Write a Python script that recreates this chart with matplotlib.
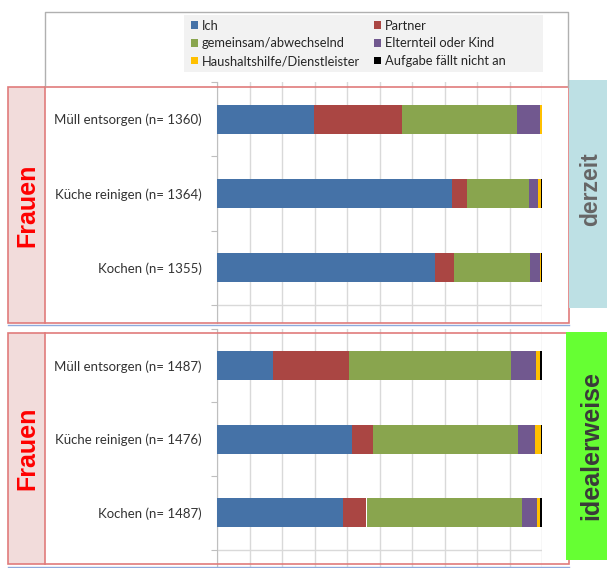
import matplotlib
matplotlib.use("Agg")
import matplotlib.pyplot as plt
from matplotlib.patches import Rectangle, Patch
import numpy as np

# ---------------- data ----------------
categories_now = ["Müll entsorgen (n= 1360)", "Küche reinigen (n= 1364)", "Kochen (n= 1355)"]
categories_ideal = ["Müll entsorgen (n= 1487)", "Küche reinigen (n= 1476)", "Kochen (n= 1487)"]
series_names = ["Ich", "Partner", "gemeinsam/abwechselnd", "Elternteil oder Kind",
                "Haushaltshilfe/Dienstleister", "Aufgabe fällt nicht an"]
series_colors = ["#4572A7", "#AA4643", "#89A54E", "#71588F", "#FFC000", "#000000"]

# derzeit (percent)
now_ich = [29.9, 72.4, 67.0]
now_partner = [27.1, 4.4, 5.8]
now_gemeinsam = [35.3, 19.2, 23.6]
now_eltern = [7.0, 2.8, 3.1]
now_haushalt = [0.6, 1.0, 0.2]
now_entfaellt = [0.1, 0.2, 0.3]

# idealerweise (percent)
ideal_ich = [17.2, 41.4, 38.7]
ideal_partner = [23.4, 6.5, 7.3]
ideal_gemeinsam = [49.8, 44.6, 47.9]
ideal_eltern = [7.7, 5.2, 4.7]
ideal_haushalt = [1.4, 2.1, 0.7]
ideal_entfaellt = [0.5, 0.2, 0.7]

now_series = [now_ich, now_partner, now_gemeinsam, now_eltern, now_haushalt, now_entfaellt]
ideal_series = [ideal_ich, ideal_partner, ideal_gemeinsam, ideal_eltern, ideal_haushalt, ideal_entfaellt]

# ---------------- layout ----------------
W, H = 607, 568
fig = plt.figure(figsize=(W / 100, H / 100), dpi=100)
fig.patch.set_facecolor("white")

LABEL_FONT = "Lato"
TXT = "#333333"
GRID = "#d9d9d9"


def frac(x0, y0, x1, y1):
    return [x0 / W, 1 - y1 / H, (x1 - x0) / W, (y1 - y0) / H]


def draw_panel(rect, cats, series, ylim_bottom):
    ax = fig.add_axes(rect)
    y = np.arange(len(cats))
    left = np.zeros(len(cats))
    for vals, col in zip(series, series_colors):
        ax.barh(y, vals, left=left, height=0.39, color=col, edgecolor="none", zorder=3)
        left = left + np.array(vals)
    ax.set_xlim(0, 100)
    ax.set_ylim(ylim_bottom, -0.5)
    ax.set_xticks(np.arange(0, 101, 10))
    ax.tick_params(axis="x", length=0, labelbottom=False)
    ax.grid(axis="x", color=GRID, lw=1, zorder=0)
    ax.set_yticks(y)
    ax.set_yticklabels(cats, fontfamily=LABEL_FONT, fontsize=9.5, color=TXT)
    ax.tick_params(axis="y", which="major", length=0, pad=11)
    ax.set_yticks(np.arange(-0.5, len(cats), 1.0), minor=True)
    ax.tick_params(axis="y", which="minor", length=4, color="#bfbfbf", width=0.8)
    for s in ["top", "right", "bottom"]:
        ax.spines[s].set_visible(False)
    ax.spines["left"].set_color("#bfbfbf")
    ax.axhline(len(cats) - 0.5, color=GRID, lw=1, zorder=1)
    return ax


# top panel (derzeit): boundaries 82 .. 305, axes to 323
ax1 = draw_panel(frac(217, 82, 542, 323), categories_now, now_series, 2.5 + 18 / 74.33)
# bottom panel (idealerweise): boundaries 328.5 .. 549.75, axes to 568
ax2 = draw_panel(frac(217, 328.5, 542, 568), categories_ideal, ideal_series, 2.5 + 18.25 / 73.75)

# legend background box
fig.add_artist(Rectangle((184 / W, 1 - 72 / H), (543 - 184) / W, (72 - 15) / H,
                         transform=fig.transFigure, facecolor="#f2f2f2",
                         edgecolor="none", zorder=4))

# legend
order = [0, 2, 4, 1, 3, 5]
handles = [Patch(facecolor=series_colors[i], edgecolor="none") for i in order]
labels = [series_names[i] for i in order]
leg = fig.legend(handles, labels, ncol=2, loc="upper left",
                 bbox_to_anchor=(186 / W, 1 - 15 / H), frameon=False,
                 handlelength=0.55, handleheight=0.55, handletextpad=0.3,
                 columnspacing=1.1, labelspacing=0.45, borderpad=0.35,
                 borderaxespad=0, prop={"family": LABEL_FONT, "size": 9.3},
                 labelcolor="#262626")
leg.set_zorder(5)

# ---------------- overlay decorations ----------------
ov = fig.add_axes([0, 0, 1, 1], zorder=10)
ov.set_xlim(0, W)
ov.set_ylim(H, 0)
ov.axis("off")
ov.patch.set_alpha(0)

# grey outer chart frame (top)
ov.plot([45, 45, 568, 568], [87, 12, 12, 87], color="#b0b0b0", lw=1)

RED = "#e07b7b"
PINK = "#f2dcdb"
# top panel box
ov.add_patch(Rectangle((8, 87), 37, 236, facecolor=PINK, edgecolor="none"))
ov.add_patch(Rectangle((8, 87), 561, 236, facecolor="none", edgecolor=RED, lw=1.2))
ov.plot([45, 45], [87, 323], color=RED, lw=1.2)
ov.plot([8, 569], [324.5, 324.5], color="#8faadc", lw=1)
# bottom panel box
ov.add_patch(Rectangle((8, 333), 37, 231, facecolor=PINK, edgecolor="none"))
ov.add_patch(Rectangle((8, 333), 561, 231, facecolor="none", edgecolor=RED, lw=1.2))
ov.plot([45, 45], [333, 564], color=RED, lw=1.2)
ov.plot([8, 569], [566.5, 566.5], color="#8faadc", lw=1)

ov.text(27, 205, "Frauen", rotation=90, ha="center", va="center", color="#ff0000",
        fontsize=18, fontweight="bold", family="Liberation Sans")
ov.text(27, 448, "Frauen", rotation=90, ha="center", va="center", color="#ff0000",
        fontsize=18, fontweight="bold", family="Liberation Sans")

# right side boxes
ov.add_patch(Rectangle((569, 80), 38, 228, facecolor="#bde0e4", edgecolor="none"))
ov.text(591, 189, "derzeit", rotation=90, ha="center", va="center", color="#666666",
        fontsize=16.5, fontweight="bold", family="Liberation Sans")
ov.add_patch(Rectangle((566, 332), 41, 228, facecolor="#66ff33", edgecolor="none"))
ov.text(591, 446, "idealerweise", rotation=90, ha="center", va="center", color="#3a3a3a",
        fontsize=18, fontweight="bold", family="Liberation Sans")

fig.savefig("out.png", dpi=100)
